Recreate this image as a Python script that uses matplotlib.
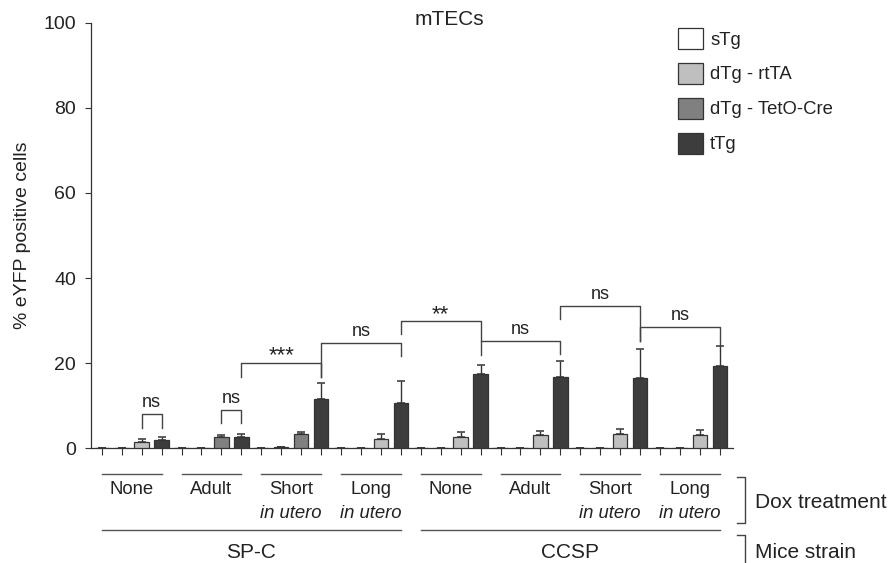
import matplotlib
matplotlib.use("Agg")
import matplotlib.pyplot as plt
from matplotlib.patches import Patch
import numpy as np

plt.rcParams['font.family'] = ['Liberation Sans', 'DejaVu Sans']

# groups: 8 dox treatments, 4 bars each
dox_names = ['None', 'Adult', 'Short', 'Long', 'None', 'Adult', 'Short', 'Long']
dox_sub = ['', '', 'in utero', 'in utero', '', '', 'in utero', 'in utero']
strains = ['SP-C', 'CCSP']
series = ['sTg', 'dTg - rtTA', 'dTg - TetO-Cre', 'tTg']

# which dTg line is shown as the 3rd bar of each group (1 = rtTA, 2 = TetO-Cre)
third_kind = [1, 2, 2, 1, 1, 1, 1, 1]

stg = [0.1, 0.1, 0.1, 0.1, 0.1, 0.1, 0.1, 0.1]
dtg_other = [0.1, 0.1, 0.3, 0.1, 0.1, 0.1, 0.1, 0.1]
dtg = [1.5, 2.7, 3.3, 2.3, 2.6, 3.1, 3.4, 3.2]
dtg_err = [0.6, 0.4, 0.5, 1.0, 1.3, 1.0, 1.1, 1.1]
ttg = [1.9, 2.7, 11.5, 10.7, 17.4, 16.7, 16.6, 19.4]
ttg_err = [0.7, 0.7, 3.8, 5.2, 2.2, 3.8, 6.8, 4.7]

# significance brackets: (bar i, bar j, top, left leg end, right leg end, label)
brackets = [
    (2, 3, 8.0, 4.8, 4.8, 'ns'),
    (6, 7, 9.1, 5.9, 5.9, 'ns'),
    (7, 11, 20.1, 16.8, 16.8, '***'),
    (11, 15, 24.7, 16.8, 21.7, 'ns'),
    (15, 19, 29.9, 26.9, 25.3, '**'),
    (19, 23, 25.3, 21.9, 22.2, 'ns'),
    (23, 27, 33.5, 30.3, 25.3, 'ns'),
    (27, 31, 28.6, 25.3, 24.3, 'ns'),
]

colors = ['#ffffff', '#bfbfbf', '#808080', '#3d3d3d']
edge = '#333333'
txt = '#222222'

fig = plt.figure(figsize=(8.91, 5.63), dpi=100)
W, H = 891, 563
ax = fig.add_axes([91 / W, (H - 448.3) / H, (733 - 91) / W, (448.3 - 22.7) / H])

heights, errs, cols = [], [], []
for g in range(8):
    other = 2 if third_kind[g] == 1 else 1
    heights += [stg[g], dtg_other[g], dtg[g], ttg[g]]
    errs += [0, 0, dtg_err[g], ttg_err[g]]
    cols += [colors[0], colors[other], colors[third_kind[g]], colors[3]]
x = np.arange(len(heights))
ax.bar(x, heights, width=0.72, color=cols, edgecolor=edge, linewidth=0.9,
       yerr=[np.zeros(len(errs)), errs], capsize=2.9,
       error_kw=dict(ecolor=edge, elinewidth=1.0, capthick=1.1), zorder=3)

ax.set_xlim(-0.54, 31.66)
ax.set_ylim(0, 100)
ax.set_yticks([0, 20, 40, 60, 80, 100])
ax.set_xticks(x)
ax.set_xticklabels([])
for s in ['top', 'right']:
    ax.spines[s].set_visible(False)
for s in ['left', 'bottom']:
    ax.spines[s].set_color(edge)
    ax.spines[s].set_linewidth(0.9)
ax.tick_params(axis='y', length=4.3, width=0.8, color=edge, labelsize=14, labelcolor=txt, pad=6.5)
ax.tick_params(axis='x', length=4.8, width=0.8, color=edge)
ax.set_ylabel('% eYFP positive cells', fontsize=14, color=txt)
ax.yaxis.set_label_coords(-0.094, 0.5)

ax.text(17.45, 99.5, 'mTECs', ha='center', va='baseline', fontsize=15, color=txt)

# brackets
for i, j, top, li, lj, lab in brackets:
    ax.plot([i, i, j, j], [li, top, top, lj], color='#444444', lw=1.0, clip_on=False)
    if lab == 'ns':
        ax.text((i + j) / 2, top + 1.6, lab, ha='center', va='baseline', fontsize=13, color=txt)
    else:
        ax.text((i + j) / 2, top + 0.3, lab, ha='center', va='baseline', fontsize=16, color=txt)

# group labels below axis
for g in range(8):
    ax.plot([g * 4, g * 4 + 3], [-6.0, -6.0], color='#555555', lw=1.0, clip_on=False)
    ax.text(g * 4 + 1.5, -10.8, dox_names[g], ha='center', va='baseline', fontsize=13.3, color=txt)
    if dox_sub[g]:
        ax.text(g * 4 + 1.5, -16.3, dox_sub[g], ha='center', va='baseline', fontsize=13.3,
                style='italic', color=txt)
for k, name in enumerate(strains):
    ax.plot([k * 16, k * 16 + 15], [-19.2, -19.2], color='#555555', lw=1.0, clip_on=False)
    ax.text(k * 16 + 7.5, -25.7, name, ha='center', va='baseline', fontsize=15, color=txt)

# side brackets
bx, sx = 32.24, 31.86
ax.plot([sx, bx, bx, sx], [-6.7, -6.7, -17.6, -17.6], color='#444444', lw=1.0, clip_on=False)
ax.plot([sx, bx, bx], [-20.4, -20.4, -30], color='#444444', lw=1.0, clip_on=False)
ax.text(32.77, -14.1, 'Dox treatment', ha='left', va='baseline', fontsize=15, color=txt)
ax.text(32.77, -25.7, 'Mice strain', ha='left', va='baseline', fontsize=15, color=txt)

handles = [Patch(facecolor=c, edgecolor=edge, linewidth=0.9) for c in colors]
fig.legend(handles, series, loc='upper left', bbox_to_anchor=(678 / W, 1 - 28 / H),
           bbox_transform=fig.transFigure, frameon=False, borderpad=0, borderaxespad=0,
           fontsize=13.3, handlelength=1.36, handleheight=1.36, handletextpad=0.38,
           labelspacing=0.76, labelcolor=txt)

fig.savefig('out.png', dpi=100)
